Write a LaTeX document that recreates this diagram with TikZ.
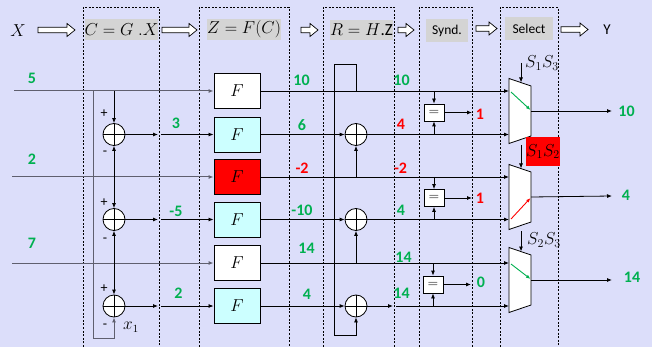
\documentclass[tikz,border=0pt]{standalone}
\usepackage{fontspec}
\setsansfont{Carlito}
\usetikzlibrary{arrows.meta,calc}

\definecolor{bgc}{RGB}{220,222,250}
\definecolor{hdrgray}{RGB}{212,212,212}
\definecolor{okgreen}{RGB}{0,176,80}
\definecolor{badred}{RGB}{255,0,0}
\definecolor{lightcy}{RGB}{204,255,255}
\definecolor{wiregray}{RGB}{95,95,110}

% hollow block arrow between header stages: x-start, x-end, y
\newcommand{\stagearrow}[3]{%
  \draw[fill=white,line width=0.7pt]
    (#1,{#3-2.8}) -- ({#2-8},{#3-2.8}) -- ({#2-8},{#3-6.5}) -- (#2,#3)
    -- ({#2-8},{#3+6.5}) -- ({#2-8},{#3+2.8}) -- (#1,{#3+2.8}) -- cycle;}

% selector trapezium centred vertically on #2, named #1
\newcommand{\selector}[2]{%
  \coordinate (#1tl) at (509,{#2-32.5});
  \coordinate (#1tr) at (531,{#2-25});
  \coordinate (#1br) at (531,{#2+25});
  \coordinate (#1bl) at (509,{#2+32.5});
  \coordinate (#1out) at (531,#2);
  \coordinate (#1top) at (521,{#2-28.5});
  \draw[fill=white,line width=0.8pt] (#1tl) -- (#1tr) -- (#1br) -- (#1bl) -- cycle;}

\begin{document}
\begin{tikzpicture}[x=1pt,y=-1pt,
  tip/.style={-{Latex[length=5pt,width=4pt]}},
  wire/.style={line width=0.8pt,black},
  inwire/.style={line width=1pt,wiregray},
  stagebox/.style={dash pattern=on 2pt off 1.6pt,line width=0.7pt},
  hdr/.style={fill=hdrgray,inner sep=0pt},
  fblock/.style={draw,line width=0.9pt,minimum width=46pt,minimum height=35pt,inner sep=0pt,font=\fontsize{16}{16}\selectfont},
  adder/.style={draw,circle,fill=white,line width=0.8pt,minimum size=22pt,inner sep=0pt,
    path picture={\draw[line width=0.6pt] (path picture bounding box.north) -- (path picture bounding box.south)
      (path picture bounding box.west) -- (path picture bounding box.east);}},
  eqbox/.style={draw,fill=white,line width=0.8pt,minimum width=20pt,minimum height=17pt,inner sep=0pt,font=\fontsize{14}{14}\selectfont},
  gnum/.style={text=okgreen,font=\fontsize{16}{16}\sffamily\bfseries,inner sep=0pt},
  rnum/.style={text=badred,font=\fontsize{16}{16}\sffamily\bfseries,inner sep=0pt},
  sign/.style={font=\fontsize{14}{14}\sffamily,inner sep=0pt},
  ctl/.style={font=\fontsize{17}{17}\selectfont,inner sep=0pt}]

\fill[bgc] (0,0) rectangle (652,347);
\useasboundingbox (0,0) rectangle (652,347);

% ---- dashed stage frames (open at the bottom)
\foreach \xa/\xb in {83/159, 199/289, 323/394, 419/472, 500/558}
  \draw[stagebox] (\xa,347) -- (\xa,7) -- (\xb,7) -- (\xb,347);

% ---- header row
\node[inner sep=0pt,font=\fontsize{17}{17}\selectfont] (hX) at (18,31) {$X$};
\node[hdr,minimum width=73pt,minimum height=21pt,font=\fontsize{17}{17}\selectfont] (hC) at (121.5,29.5) {$C = G\;.X$};
\node[hdr,minimum width=74pt,minimum height=21pt,font=\fontsize{17}{17}\selectfont] (hZ) at (244,29.5) {$Z = F(C)$};
\node[hdr,minimum width=59pt,minimum height=20pt,font=\fontsize{17}{17}\selectfont] (hR) at (361.5,30) {$R = H$\textsf{.Z}};
\node[hdr,minimum width=42pt,minimum height=23pt,font=\fontsize{13.5}{14}\sffamily] (hS) at (447,30.5) {Synd.};
\node[hdr,minimum width=48pt,minimum height=23pt,font=\fontsize{13.5}{14}\sffamily] (hSel) at (529,28.5) {Select};
\node[inner sep=0pt,font=\fontsize{15}{15}\sffamily] (hY) at (607,30) {Y};

\stagearrow{38}{75}{30}
\stagearrow{162}{197}{30}
\stagearrow{301}{318}{30}
\stagearrow{398}{414}{30}
\stagearrow{476}{497}{28.5}
\stagearrow{561}{588}{29.5}

% ---- F blocks
\node[fblock,fill=white]   (F1) at (237,91)    {$F$};
\node[fblock,fill=lightcy] (F2) at (237,134.5) {$F$};
\node[fblock,fill=badred]  (F3) at (237,177)   {$F$};
\node[fblock,fill=lightcy] (F4) at (237,219.5) {$F$};
\node[fblock,fill=white]   (F5) at (237,263)   {$F$};
\node[fblock,fill=lightcy] (F6) at (237,306)   {$F$};

% ---- encoder adders and syndrome adders
\node[adder] (A1) at (114,134.5) {};
\node[adder] (A2) at (114,219.5) {};
\node[adder] (A3) at (114,306) {};
\node[adder] (R1) at (356,134.5) {};
\node[adder] (R2) at (356,219.5) {};
\node[adder] (R3) at (356,306) {};

% ---- inputs
\coordinate (in1) at (14,91);
\coordinate (in3) at (12,177);
\coordinate (in5) at (12,263);
\draw[inwire,tip] (in1) -- (F1.west);
\draw[inwire,tip] (in3) -- (F3.west);
\draw[inwire,tip] (in5) -- (F5.west);
\node[gnum] (n5) at (32,78) {5};
\node[gnum] (n2) at (32,159) {2};
\node[gnum] (n7) at (32,243) {7};

% ---- feedback loop of the encoder
\coordinate (L0) at (93,91);
\coordinate (Lb) at (93,338);
\draw[inwire,tip] (L0) -- (Lb) -| (A3.south);

% ---- taps into encoder adders
\coordinate (j1) at (114,91);
\coordinate (j3) at (114,177);
\coordinate (j5) at (114,263);
\draw[wire,tip] (j1) -- (A1.north);
\draw[wire,tip] (j3) -- (A1.south);
\draw[wire,tip] (j3) -- (A2.north);
\draw[wire,tip] (j5) -- (A2.south);
\draw[wire,tip] (j5) -- (A3.north);

\node[sign] (p1) at (104,114) {+};
\node[sign] (m1) at (105,153) {-};
\node[sign] (p2) at (104,203) {+};
\node[sign] (m2) at (105,240) {-};
\node[sign] (p3) at (104,289) {+};
\node[sign] (m3) at (105,326) {-};
\node[inner sep=0pt,font=\fontsize{16}{16}\selectfont] (x1) at (131,327) {$x_1$};

% ---- encoder outputs to F blocks
\foreach \a/\f/\y in {A1/F2/134.5, A2/F4/219.5, A3/F6/306} {
  \coordinate (g\a) at (158,\y);
  \coordinate (h\a) at (161,\y);
  \draw[wire,tip] (\a.east) -- (g\a);
  \draw[wire,tip] (h\a) -- (\f.west);
}
\node[gnum] (c1) at (176,123.5) {3};
\node[gnum] (c2) at (176,211.5) {-5};
\node[gnum] (c3) at (178.5,293) {2};

% ---- selector blocks
\selector{M1}{111}
\selector{M2}{197}
\selector{M3}{280}

\coordinate (M1a) at (509,91);
\coordinate (M1b) at (509,134.5);
\coordinate (M2a) at (509,177);
\coordinate (M2b) at (509,219.5);
\coordinate (M3a) at (509,263);
\coordinate (M3b) at (509,306);

% ---- F outputs and syndrome adders
\draw[wire,tip] (F1.east) -- (M1a);
\draw[wire,tip] (F2.east) -- (R1.west);
\draw[wire,tip] (R1.east) -- (M1b);
\draw[wire,tip] (F3.east) -- (M2a);
\draw[wire,tip] (F4.east) -- (R2.west);
\draw[wire,tip] (R2.east) -- (M2b);
\draw[wire,tip] (F5.east) -- (M3a);
\draw[wire,tip] (F6.east) -- (R3.west);
\coordinate (r3a) at (393,306);
\coordinate (r3b) at (396,306);
\draw[wire,tip] (R3.east) -- (r3a);
\draw[wire,tip] (r3b) -- (M3b);

\coordinate (k3) at (356,177);
\coordinate (k5) at (356,263);
\draw[wire,tip] (k3) -- (R1.south);
\draw[wire,tip] (k5) -- (R2.south);

% loop from the first row to the last syndrome adder
\coordinate (t0) at (356,91);
\coordinate (t1) at (356,64);
\coordinate (t2) at (334,64);
\coordinate (t3) at (334,335);
\coordinate (t4) at (356,335);
\draw[wire,tip] (t0) -- (t1) -- (t2) -- (t3) -- (t4) -- (R3.south);

\node[gnum] (z1) at (301.5,80) {10};
\node[gnum] (z2) at (302,125) {6};
\node[rnum] (z3) at (302,168) {-2};
\node[gnum] (z4) at (302,210) {-10};
\node[gnum] (z5) at (306.5,248) {14};
\node[gnum] (z6) at (307,294.5) {4};

\node[gnum] (y1) at (401.5,80) {10};
\node[rnum] (y2) at (401,124) {4};
\node[rnum] (y3) at (400.5,168) {-2};
\node[gnum] (y4) at (401,210) {4};
\node[gnum] (y5) at (403.5,257) {14};
\node[gnum] (y6) at (401.5,293) {14};

% ---- comparators
\node[eqbox] (E1) at (434,112.5) {=};
\node[eqbox] (E2) at (434,198) {=};
\node[eqbox] (E3) at (433,284.5) {=};
\foreach \e/\ya/\yb/\x in {E1/91/134.5/434, E2/177/219.5/434, E3/263/306/433} {
  \coordinate (\e u) at (\x,\ya);
  \coordinate (\e d) at (\x,\yb);
  \draw[wire,tip] (\e u) -- (\e.north);
  \draw[wire,tip] (\e d) -- (\e.south);
}
\coordinate (E1o) at (472,112.5);
\coordinate (E2o) at (472,198);
\coordinate (E3o) at (471,284.5);
\draw[wire,tip] (E1.east) -- (E1o);
\draw[wire,tip] (E2.east) -- (E2o);
\draw[wire,tip] (E3.east) -- (E3o);
\node[rnum] (s1) at (480,114) {1};
\node[rnum] (s2) at (480,198) {1};
\node[gnum] (s3) at (481,282.5) {0};

% ---- selector controls and routing
\coordinate (M1c) at (521,63);
\coordinate (M2c) at (521,145);
\coordinate (M3c) at (521,231);
\draw[wire,tip] (M1c) -- (M1top);
\draw[wire,tip] (M2c) -- (M2top);
\draw[wire,tip] (M3c) -- (M3top);
\node[ctl] (S13) at (542,63) {$S_1S_3$};
\node[ctl,fill=badred,minimum width=34pt,minimum height=29pt] (S12) at (543,151.5) {$S_1S_2$};
\node[ctl] (S23) at (544,240) {$S_2S_3$};

\coordinate (p1a) at (511,92);
\coordinate (p1b) at (530.5,110);
\coordinate (p2a) at (511,219);
\coordinate (p2b) at (530.5,198);
\coordinate (p3a) at (511,264);
\coordinate (p3b) at (530.5,279);
\draw[okgreen,line width=0.9pt,-{Latex[length=4.5pt,width=3.5pt]}] (p1a) -- (p1b);
\draw[badred,line width=0.9pt,-{Latex[length=4.5pt,width=3.5pt]}] (p2a) -- (p2b);
\draw[okgreen,line width=0.9pt,-{Latex[length=4.5pt,width=3.5pt]}] (p3a) -- (p3b);

% ---- outputs
\coordinate (o1) at (612,111);
\coordinate (o2) at (612,196);
\coordinate (o3) at (612,280);
\draw[wire,tip] (M1out) -- (o1);
\draw[wire,tip] (M2out) -- (o2);
\draw[wire,tip] (M3out) -- (o3);
\node[gnum] (q1) at (626.5,111.5) {10};
\node[gnum] (q2) at (626,195) {4};
\node[gnum] (q3) at (632,277.5) {14};

\end{tikzpicture}
\end{document}
